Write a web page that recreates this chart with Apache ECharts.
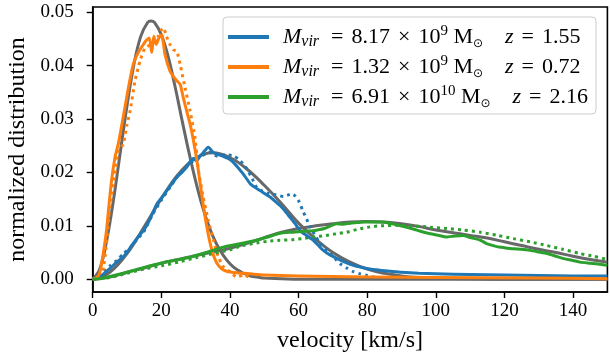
<!DOCTYPE html>
<html>
<head>
<meta charset="utf-8">
<script src="https://cdn.jsdelivr.net/npm/echarts@6/dist/echarts.min.js"></script>
<style>
  html, body { margin: 0; padding: 0; background: #fff; }
  #chart { width: 610px; height: 356px; }
</style>
</head>
<body>
<div id="chart"></div>
<script>
// tick labels
const xTicks = [0, 20, 40, 60, 80, 100, 120, 140];
const yTicks = [0, 0.01, 0.02, 0.03, 0.04, 0.05];

// legend entries
const groups = ['blue', 'orange', 'green'];
const massMant = ['8.17', '1.32', '6.91'];
const massExp = ['9', '9', '10'];
const redshift = ['1.55', '0.72', '2.16'];

// [velocity, value]
const blueSolid = [[0,0],[2,0.0004],[5,0.0020],[7,0.0032],[8.9,0.0042],[10.5,0.0055],[11.8,0.0067],[13.3,0.0080],[14.8,0.0091],[16.5,0.0110],[18.7,0.0141],[20,0.0152],[21.6,0.0166],[23,0.0178],[24.5,0.0191],[26,0.0200],[27.4,0.0210],[28.4,0.0220],[29.3,0.0226],[30.3,0.0222],[31.2,0.0230],[32.2,0.0237],[33.7,0.0247],[35.2,0.0237],[36.5,0.0234],[38.1,0.0230],[39.5,0.0226],[41,0.0219],[42.5,0.0208],[43.9,0.0197],[45.9,0.0179],[47.3,0.0172],[48.8,0.0166],[50.2,0.0160],[51.7,0.0154],[53.2,0.0146],[54.6,0.0138],[56,0.0128],[57.5,0.0116],[59,0.0104],[60.4,0.0091],[62.3,0.0082],[64.3,0.0073],[65.8,0.0063],[67.2,0.0054],[69,0.0046],[71.1,0.0039],[73.5,0.0032],[76,0.0026],[78.5,0.0022],[80.8,0.0019],[83.5,0.0017],[86.7,0.0015],[90,0.0013],[95,0.0011],[100,0.0010],[110,0.0009],[120,0.0008],[130,0.0007],[140,0.0006],[150,0.0006]];
const blueDotted = [[0,0],[2,0.0006],[3.5,0.0015],[5,0.0025],[7,0.0035],[9,0.0048],[11,0.0060],[13,0.0075],[15,0.0090],[17.5,0.0122],[20,0.0148],[22.5,0.0172],[25,0.0195],[27.5,0.0212],[30,0.0225],[32,0.0232],[34,0.0238],[36.2,0.0231],[38.5,0.0233],[41,0.0231],[43,0.0222],[44.9,0.0207],[46.5,0.0188],[47.8,0.0172],[49.5,0.0165],[51.5,0.0160],[53.5,0.0158],[55.6,0.0155],[57,0.0158],[58,0.0160],[59,0.0156],[60,0.0147],[61.4,0.0126],[63.4,0.0098],[64.8,0.0082],[66.3,0.0067],[67.8,0.0057],[69.2,0.0048],[70.7,0.0038],[72.1,0.0029],[74,0.0021],[76,0.0014],[78,0.0010],[79.9,0.0007],[82,0.0004],[85,0.0002]];
const blueFit = [[0,0],[5,0.0013],[10,0.0048],[15,0.0098],[20,0.0151],[25,0.0197],[30,0.0227],[35,0.0237],[40,0.0228],[45,0.0206],[50,0.0176],[55,0.0142],[60,0.0105],[65,0.0075],[70,0.0050],[75,0.0032],[80,0.0019],[85,0.0011],[90,0.0006],[95,0.0003],[100,0.0002],[110,0.0001],[120,0],[150,0]];

const orangeSolid = [[0,0],[1,0.0002],[2,0.0011],[3,0.0045],[4,0.0090],[4.5,0.0123],[5.5,0.0185],[6.5,0.0228],[7.5,0.0255],[8.8,0.0300],[10.3,0.0355],[11.8,0.0402],[13.3,0.0425],[14.8,0.0440],[15.7,0.0448],[16.5,0.0452],[17.2,0.0425],[17.8,0.0455],[18.5,0.0440],[19.3,0.0452],[20.1,0.0458],[21.1,0.0420],[22.5,0.0390],[23.5,0.0380],[24.5,0.0372],[25.5,0.0365],[26.4,0.0340],[27.4,0.0315],[28.4,0.0290],[29.3,0.0262],[30.3,0.0225],[31.3,0.0180],[32.2,0.0140],[33.2,0.0100],[34.2,0.0068],[35.2,0.0045],[36.2,0.0030],[37.5,0.0020],[39,0.0015],[42,0.0012],[46,0.0010],[50,0.0008],[60,0.0006],[80,0.0004],[100,0.0003],[130,0.0002],[150,0.0001]];
const orangeDotted = [[0,0],[2,0.0005],[3,0.0017],[4,0.0065],[5,0.0135],[6.5,0.0197],[7.5,0.0241],[8.9,0.0253],[10,0.0290],[10.9,0.0315],[12.3,0.0371],[13.8,0.0409],[15.2,0.0433],[16.5,0.0438],[17.7,0.0442],[19.1,0.0455],[20.1,0.0468],[20.6,0.0471],[21.5,0.0455],[22.5,0.0440],[23.5,0.0430],[24.5,0.0427],[25.5,0.0402],[26.9,0.0359],[28.4,0.0315],[29.8,0.0265],[30.8,0.0205],[32.2,0.0154],[33.7,0.0110],[35.2,0.0073],[36.6,0.0042],[38.1,0.0023],[40,0.0014],[42,0.0004],[44,0.0008],[46,0.0002]];
const orangeFit = [[0,0],[2,0.0018],[4,0.0070],[6,0.0146],[8,0.0236],[10,0.0325],[12,0.0402],[14,0.0455],[16,0.0481],[17,0.0484],[18,0.0481],[20,0.0458],[22,0.0417],[24,0.0361],[26,0.0299],[28,0.0239],[30,0.0184],[32,0.0136],[34,0.0097],[36,0.0067],[38,0.0045],[40,0.0029],[42,0.0018],[44,0.0011],[46,0.0006],[48,0.0004],[50,0.0002],[55,0.0001],[60,0],[150,0]];

const greenSolid = [[0,0],[2,0.0001],[5,0.0005],[8.9,0.0011],[11,0.0015],[13.8,0.0020],[16,0.0024],[18.7,0.0028],[21,0.0032],[23.5,0.0035],[26,0.0038],[28.4,0.0041],[31.3,0.0047],[34,0.0052],[36,0.0056],[38,0.0060],[41,0.0064],[44,0.0068],[47.8,0.0073],[51,0.0079],[54.6,0.0086],[57.5,0.0088],[60,0.0089],[62,0.0090],[64.3,0.0091],[66,0.0093],[67.5,0.0095],[69,0.0099],[71,0.0104],[73,0.0103],[75,0.0105],[77,0.0106],[78.8,0.0107],[81,0.0107],[83.5,0.0107],[86.7,0.0105],[89,0.0101],[91,0.0098],[93.4,0.0094],[96,0.0089],[98.4,0.0085],[101,0.0082],[103,0.0079],[105.5,0.0081],[108,0.0082],[110,0.0078],[113,0.0073],[115,0.0066],[117.8,0.0061],[120,0.0059],[122.6,0.0057],[125,0.0056],[127.5,0.0054],[130,0.0051],[132.4,0.0048],[135,0.0043],[137,0.0039],[140,0.0035],[142,0.0032],[145,0.0030],[148,0.0028],[150,0.0026]];
const greenDotted = [[0,0],[5,0.0003],[10,0.0011],[15,0.0019],[20,0.0025],[25,0.0032],[30,0.0040],[35,0.0048],[40,0.0055],[43,0.0062],[47.8,0.0068],[51,0.0071],[54.6,0.0073],[58,0.0074],[61,0.0076],[64.3,0.0079],[68,0.0082],[71,0.0085],[74,0.0088],[77,0.0093],[80.8,0.0098],[84,0.0100],[88.6,0.0101],[92,0.0100],[95.4,0.0099],[99,0.0097],[103.2,0.0095],[108,0.0092],[113,0.0088],[118,0.0082],[122.6,0.0076],[127.5,0.0070],[132.4,0.0063],[137,0.0056],[142,0.0048],[146,0.0043],[150,0.0037]];
const greenFit = [[0,0],[5,0.0004],[10,0.0013],[15,0.0021],[20,0.0030],[25,0.0037],[30,0.0044],[35,0.0051],[40,0.0058],[45,0.0067],[50,0.0078],[55,0.0088],[60,0.0095],[65,0.0100],[70,0.0104],[75,0.0107],[80,0.0108],[85,0.0107],[90,0.0104],[95,0.0099],[100,0.0092],[105,0.0087],[110,0.0082],[115,0.0077],[120,0.0070],[125,0.0063],[130,0.0056],[135,0.0050],[140,0.0043],[145,0.0037],[150,0.0032]];

const colors = { blue: '#1f77b4', orange: '#ff7f0e', green: '#2ca02c' };
const fitColor = '#686868';
const serif = 'Liberation Serif';

const solids = { blue: blueSolid, orange: orangeSolid, green: greenSolid };
const dotteds = { blue: blueDotted, orange: orangeDotted, green: greenDotted };
const fits = { blue: blueFit, orange: orangeFit, green: greenFit };

function line(name, data, color, type, z, smooth) {
  return {
    name: name, type: 'line', data: data, z: z,
    showSymbol: false, symbol: 'none', smooth: smooth, silent: true,
    color: color,
    lineStyle: { color: color, width: 3, type: type, cap: 'butt', join: 'round' }
  };
}

const series = [];
groups.forEach(g => series.push(line(g + '-fit', fits[g], fitColor, 'solid', 2, 0.4)));
groups.forEach(g => series.push(line(g + '-dot', dotteds[g], colors[g], [3, 4], 3, 0.2)));
groups.forEach(g => series.push(line(g, solids[g], colors[g], 'solid', 4, 0.2)));

const chart = echarts.init(document.getElementById('chart'), null, { renderer: 'canvas' });
chart.setOption({
  animation: false,
  backgroundColor: '#fff',
  grid: {
    left: 92.7, right: 2.6, top: 7, bottom: 64,
    show: true, borderColor: '#000', borderWidth: 1.6,
    containLabel: false, outerBoundsMode: 'none'
  },
  legend: {
    data: groups,
    orient: 'vertical',
    left: 223, top: 17,
    padding: [7, 8, 4, 5],
    itemGap: 4,
    itemWidth: 41, itemHeight: 4,
    icon: 'rect',
    backgroundColor: 'rgba(255,255,255,0.85)',
    borderColor: '#cccccc', borderWidth: 1, borderRadius: 4,
    selectedMode: false,
    formatter: function (name) {
      const i = groups.indexOf(name);
      return '{g0| }{m|M}{s|vir}{op|=}{n|' + massMant[i] + '}{op|×}{n|10}{p|' + massExp[i] +
        '}{n| M}{o|⊙}{gap| }{m|z}{op|=}{n|' + redshift[i] + '}';
    },
    textStyle: {
      color: '#000',
      rich: {
        g0: { width: 9, fontSize: 20, lineHeight: 26 },
        m: { fontFamily: serif, fontStyle: 'italic', fontSize: 22, lineHeight: 26, color: '#000' },
        n: { fontFamily: serif, fontSize: 22, lineHeight: 26, color: '#000' },
        op: { fontFamily: serif, fontSize: 22, lineHeight: 26, padding: [0, 8, 0, 8], color: '#000' },
        s: { fontFamily: serif, fontStyle: 'italic', fontSize: 16, lineHeight: 14, verticalAlign: 'bottom', padding: [0, 4, 0, 0], color: '#000' },
        p: { fontFamily: serif, fontSize: 15, lineHeight: 14, verticalAlign: 'top', color: '#000' },
        o: { fontFamily: 'DejaVu Sans', fontSize: 12, lineHeight: 14, verticalAlign: 'bottom', color: '#000' },
        gap: { width: 22, fontSize: 20, lineHeight: 26 }
      }
    }
  },
  xAxis: {
    type: 'value', min: 0, max: 150,
    name: 'velocity [km/s]', nameLocation: 'middle', nameGap: 37,
    nameTextStyle: { fontFamily: serif, fontSize: 24, color: '#000' },
    axisLine: { show: true, onZero: false, lineStyle: { color: '#000', width: 1.6 } },
    axisTick: { show: true, length: 6, lineStyle: { color: '#000', width: 1.4 }, customValues: xTicks },
    axisLabel: { fontFamily: serif, fontSize: 19, color: '#000', margin: 10, customValues: xTicks },
    splitLine: { show: false }
  },
  yAxis: {
    type: 'value', min: -0.0024, max: 0.0510,
    name: 'normalized distribution', nameLocation: 'middle', nameGap: 62, nameRotate: 90,
    nameTextStyle: { fontFamily: serif, fontSize: 24, color: '#000' },
    axisLine: { show: true, onZero: false, lineStyle: { color: '#000', width: 1.6 } },
    axisTick: { show: true, length: 6, lineStyle: { color: '#000', width: 1.4 }, customValues: yTicks },
    axisLabel: { fontFamily: serif, fontSize: 19, color: '#000', margin: 19, customValues: yTicks,
      formatter: v => v.toFixed(2) },
    splitLine: { show: false }
  },
  series: series
});
</script>
</body>
</html>
